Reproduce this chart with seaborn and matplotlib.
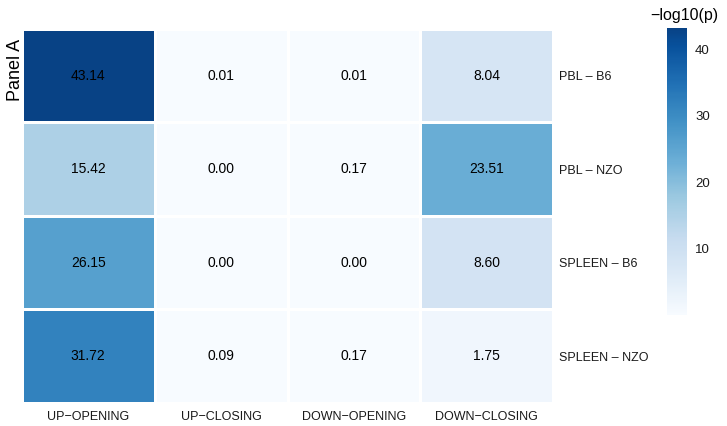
import numpy as np
import pandas as pd
import seaborn as sns
import matplotlib.pyplot as plt
from matplotlib.colors import LinearSegmentedColormap

columns = ["UP\u2212OPENING", "UP\u2212CLOSING", "DOWN\u2212OPENING", "DOWN\u2212CLOSING"]
rows = ["PBL \u2013 B6", "PBL \u2013 NZO", "SPLEEN \u2013 B6", "SPLEEN \u2013 NZO"]
up_opening = [43.14, 15.42, 26.15, 31.72]
up_closing = [0.01, 0.00, 0.00, 0.09]
down_opening = [0.01, 0.17, 0.00, 0.17]
down_closing = [8.04, 23.51, 8.60, 1.75]

data = pd.DataFrame(
    {columns[0]: up_opening, columns[1]: up_closing,
     columns[2]: down_opening, columns[3]: down_closing},
    index=rows,
)

blues = plt.get_cmap("Blues")
cmap = LinearSegmentedColormap.from_list("blues_trunc", blues(np.linspace(0, 0.93, 256)))

plt.rcParams["font.family"] = ["Liberation Sans", "DejaVu Sans"]

fig = plt.figure(figsize=(7.27, 4.26), dpi=100)
ax = fig.add_axes([0.030, 0.054, 0.731, 0.878])
cax = fig.add_axes([0.917, 0.26, 0.0275, 0.674])

sns.heatmap(
    data, ax=ax, cbar_ax=cax, cmap=cmap,
    vmin=data.values.min(), vmax=data.values.max(),
    annot=True, fmt=".2f", annot_kws={"size": 10, "color": "black"},
    linewidths=0.8, linecolor="white",
)

ax.yaxis.tick_right()
ax.tick_params(axis="both", length=0, labelsize=9, colors="#1a1a1a")
ax.tick_params(axis="y", rotation=0, pad=4)
ax.tick_params(axis="x", pad=6)
for lbl in ax.get_yticklabels():
    lbl.set_horizontalalignment("left")
ax.set_xlabel("")
ax.set_ylabel("")

fig.text(0.021, 0.835, "Panel A", rotation=90, ha="center", va="center", fontsize=13)

cbar = ax.collections[0].colorbar
cbar.outline.set_visible(False)
cbar.set_ticks([10, 20, 30, 40])
cbar.ax.tick_params(length=0, labelsize=9.5, colors="#1a1a1a", pad=6)
fig.text(0.941, 0.945, "\u2212log10(p)", ha="center", va="bottom", fontsize=11.5)

fig.savefig("out.png", dpi=100)
